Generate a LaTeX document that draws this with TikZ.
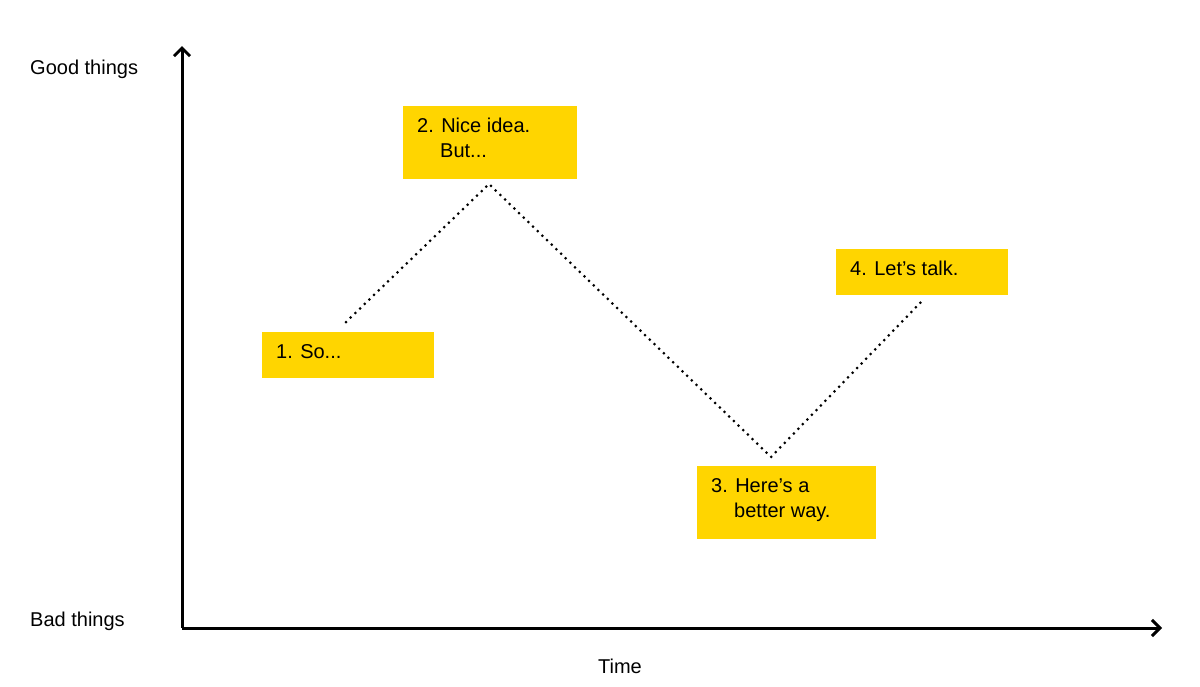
\documentclass[tikz,border=0pt]{standalone}
\usepackage{fontspec}
\setmainfont{Liberation Sans}
\usetikzlibrary{arrows.meta}
\definecolor{yel}{HTML}{FFD500}
\begin{document}
\begin{tikzpicture}[x=1pt,y=-1pt,
  ax/.style={line width=3pt,-{Straight Barb[length=8pt,width=16pt,line width=3pt]}},
  lbl/.style={font=\fontsize{20}{24}\selectfont,anchor=west,inner sep=0},
  box/.style={fill=yel,draw=none},
  btxt/.style={font=\fontsize{20}{25}\selectfont,anchor=north west,align=left,inner sep=0}]
\useasboundingbox (0,0) rectangle (1200,686);
\coordinate (o) at (182,628);
\coordinate (yt) at (182,46);
\coordinate (xt) at (1162,628);
\draw[ax] (o) -- (yt);
\draw[ax] (o) -- (xt);
\node[lbl] (good) at (30,69) {Good things};
\node[lbl] (bad) at (30,621) {Bad things};
\node[lbl,anchor=center] (time) at (620,666) {Time};
\fill[box] (262,332) rectangle (434,378);
\fill[box] (403,106) rectangle (577,179);
\fill[box] (697,466) rectangle (876,539);
\fill[box] (836,249) rectangle (1008,295);
\node[btxt] (t1) at (276,344) {1. So...};
\node[btxt] (t2) at (417,118) {2. Nice idea.\\\hspace*{23pt}But...};
\node[btxt] (t3) at (711,478) {3. Here’s a\\\hspace*{23pt}better way.};
\node[btxt] (t4) at (850,261) {4. Let’s talk.};
\coordinate (p1) at (346,322);
\coordinate (p2) at (489,184);
\coordinate (p3) at (771,457);
\coordinate (p4) at (922,301);
\draw[line width=3pt,line cap=round,dash pattern=on 0pt off 6.5pt] (p1) -- (p2) -- (p3) -- (p4);
\end{tikzpicture}
\end{document}
